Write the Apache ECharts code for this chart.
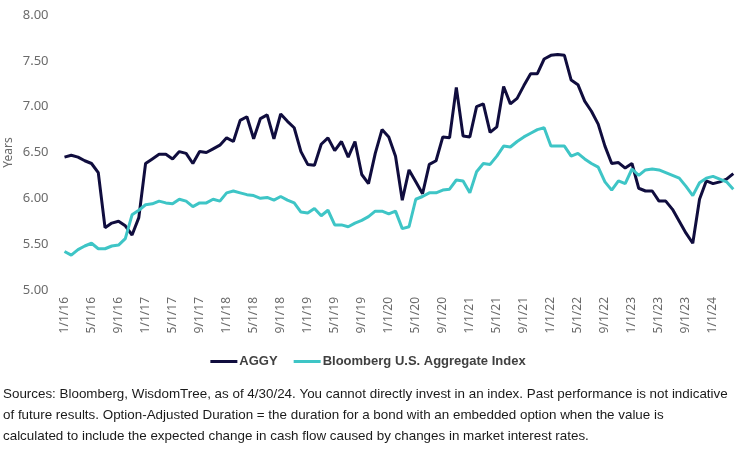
<!DOCTYPE html>
<html>
<head>
<meta charset="utf-8">
<script src="https://cdn.jsdelivr.net/npm/echarts@6/dist/echarts.min.js"></script>
<style>
    html, body { margin: 0; padding: 0; background: #ffffff; }
    #chart { width: 736px; height: 450px; }
</style>
</head>
<body>
<div id="chart"></div>
<script>
    // monthly option-adjusted duration, Jan 2016 .. Apr 2024
    const aggy = [
        6.45, 6.47, 6.45, 6.41, 6.38, 6.28, 5.68, 5.73, 5.75, 5.70, 5.60, 5.79,
        6.38, 6.43, 6.48, 6.48, 6.43, 6.51, 6.49, 6.38, 6.51, 6.50, 6.54, 6.58,
        6.66, 6.62, 6.85, 6.89, 6.65, 6.87, 6.91, 6.65, 6.92, 6.84, 6.77, 6.51,
        6.37, 6.36, 6.59, 6.66, 6.52, 6.62, 6.45, 6.62, 6.26, 6.16, 6.49, 6.75,
        6.67, 6.46, 5.98, 6.31, 6.18, 6.05, 6.37, 6.41, 6.67, 6.66, 7.21, 6.68,
        6.67, 7.00, 7.03, 6.72, 6.78, 7.22, 7.03, 7.09, 7.23, 7.36, 7.36, 7.52,
        7.56, 7.57, 7.56, 7.29, 7.24, 7.06, 6.95, 6.81, 6.57, 6.38, 6.39, 6.33,
        6.38, 6.11, 6.08, 6.08, 5.97, 5.97, 5.88, 5.75, 5.62, 5.51, 5.99, 6.19,
        6.16, 6.18, 6.21, 6.27
    ];
    const bbgAgg = [
        5.42, 5.38, 5.44, 5.48, 5.51, 5.45, 5.45, 5.48, 5.49, 5.56, 5.82, 5.87,
        5.93, 5.94, 5.97, 5.95, 5.94, 5.99, 5.97, 5.91, 5.95, 5.95, 5.99, 5.97,
        6.06, 6.08, 6.06, 6.04, 6.03, 6.00, 6.01, 5.98, 6.02, 5.98, 5.95, 5.85,
        5.84, 5.89, 5.81, 5.87, 5.71, 5.71, 5.69, 5.73, 5.76, 5.80, 5.86, 5.86,
        5.83, 5.86, 5.67, 5.69, 5.99, 6.02, 6.06, 6.06, 6.09, 6.10, 6.20, 6.19,
        6.06, 6.29, 6.38, 6.37, 6.46, 6.57, 6.56, 6.62, 6.67, 6.71, 6.75, 6.77,
        6.57, 6.57, 6.57, 6.46, 6.49, 6.43, 6.38, 6.34, 6.18, 6.09, 6.19, 6.16,
        6.32, 6.25, 6.31, 6.32, 6.31, 6.28, 6.25, 6.22, 6.13, 6.03, 6.17, 6.22,
        6.24, 6.21, 6.18, 6.10
    ];

    // category labels m/1/yy
    const months = [];
    for (let i = 0; i < aggy.length; i++) {
        const m = (i % 12) + 1;
        const y = 16 + Math.floor(i / 12);
        months.push(m + '/1/' + y);
    }

    const footnote = [
        'Sources: Bloomberg, WisdomTree, as of 4/30/24. You cannot directly invest in an index. Past performance is not indicative',
        'of future results. Option-Adjusted Duration = the duration for a bond with an embedded option when the value is',
        'calculated to include the expected change in cash flow caused by changes in market interest rates.'
    ];

    const chart = echarts.init(document.getElementById('chart'));
    chart.setOption({
        animation: false,
        grid: {
            left: 64.5,
            right: 2.7,
            top: 15,
            bottom: 160,
            outerBoundsMode: 'none'
        },
        legend: {
            top: 350,
            left: 'center',
            icon: 'rect',
            itemWidth: 27,
            itemHeight: 3,
            itemGap: 16,
            textStyle: {
                fontFamily: 'Liberation Sans',
                fontWeight: 'bold',
                fontSize: 13,
                color: '#404040',
                padding: [0, 0, 0, -3]
            },
            data: ['AGGY', 'Bloomberg U.S. Aggregate Index']
        },
        xAxis: {
            type: 'category',
            boundaryGap: false,
            data: months,
            axisLine: { show: false },
            axisTick: { show: false },
            axisLabel: {
                interval: 3,
                rotate: 90,
                margin: 7,
                fontFamily: 'Noto Sans',
                fontSize: 12,
                color: '#6b6b6b'
            }
        },
        yAxis: {
            type: 'value',
            min: 5,
            max: 8,
            interval: 0.5,
            name: 'Years',
            nameLocation: 'middle',
            nameRotate: 90,
            nameGap: 50,
            nameMoveOverlap: false,
            nameTextStyle: {
                fontFamily: 'Noto Sans',
                fontSize: 12,
                color: '#6b6b6b'
            },
            splitLine: { show: false },
            axisLine: { show: false },
            axisTick: { show: false },
            axisLabel: {
                margin: 16,
                fontFamily: 'Noto Sans',
                fontSize: 13,
                color: '#6b6b6b',
                formatter: v => v.toFixed(2)
            }
        },
        series: [
            {
                name: 'AGGY',
                type: 'line',
                data: aggy,
                symbol: 'none',
                color: '#100d3e',
                lineStyle: { width: 3 }
            },
            {
                name: 'Bloomberg U.S. Aggregate Index',
                type: 'line',
                data: bbgAgg,
                symbol: 'none',
                color: '#3ec5c6',
                lineStyle: { width: 3 }
            }
        ],
        graphic: footnote.map((line, i) => ({
            type: 'text',
            left: 3,
            top: 388 + i * 21,
            style: {
                text: line,
                fontFamily: 'Liberation Sans',
                fontSize: 13.4,
                fill: '#1a1a1a'
            }
        }))
    });
</script>
</body>
</html>
